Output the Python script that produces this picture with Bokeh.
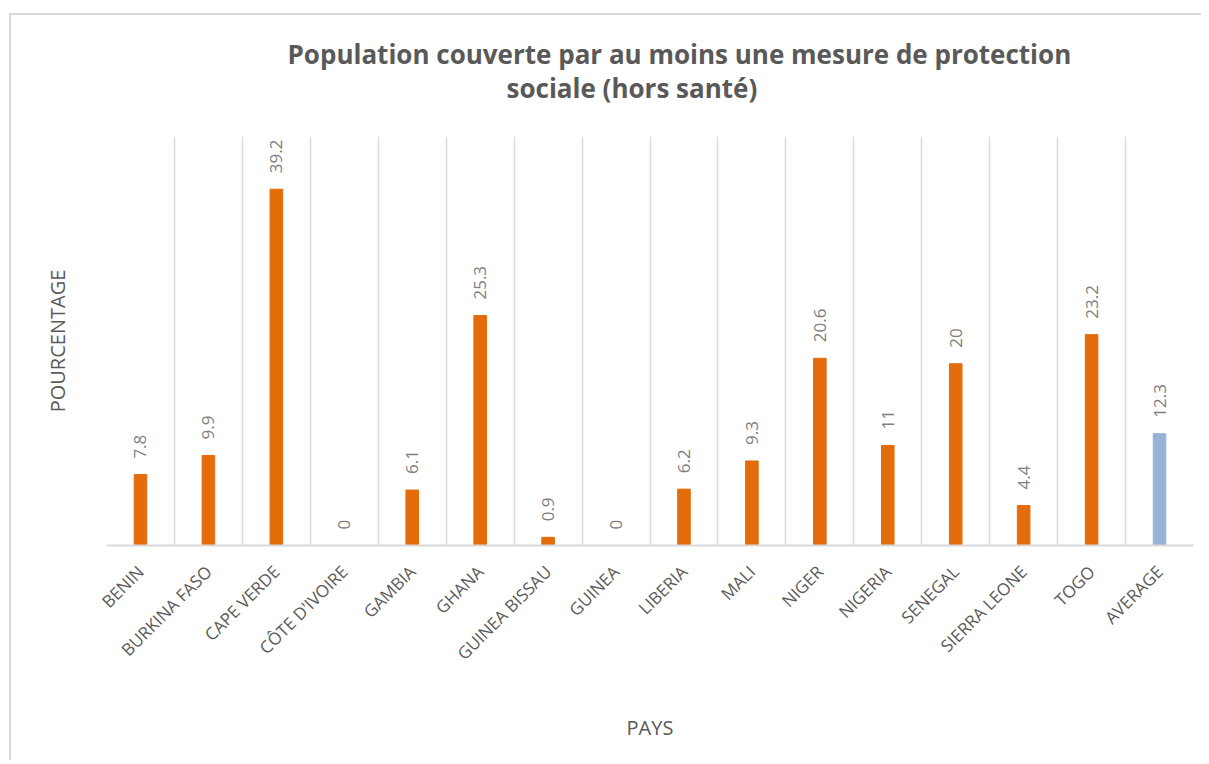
import math
from bokeh.plotting import figure
from bokeh.models import Range1d, FixedTicker, LabelSet, ColumnDataSource, Title
from bokeh.core.properties import value
from bokeh.embed import file_html
from bokeh.resources import INLINE

# ---- data ----
countries = ["BENIN", "BURKINA FASO", "CAPE VERDE", "CÔTE D'IVOIRE", "GAMBIA",
             "GHANA", "GUINEA BISSAU", "GUINEA", "LIBERIA", "MALI", "NIGER",
             "NIGERIA", "SENEGAL", "SIERRA LEONE", "TOGO", "AVERAGE"]
values = [7.8, 9.9, 39.2, 0, 6.1, 25.3, 0.9, 0, 6.2, 9.3, 20.6, 11, 20, 4.4, 23.2, 12.3]
title_line1 = "Population couverte par au moins une mesure de protection"
title_line2 = "sociale (hors santé)"
y_title = "POURCENTAGE"
x_title = "PAYS"

# ---- styles ----
ORANGE = "#E46C0A"
BLUE = "#95B3D7"
GRID = "#d9d9d9"
DARK = "#595959"
LABEL = "#808080"
FONT = "Open Sans"

n = len(countries)
xs = [i + 0.5 for i in range(n)]
colors = [BLUE if c == "AVERAGE" else ORANGE for c in countries]
labels = [f"{v:g}" for v in values]

src = ColumnDataSource(dict(x=xs, top=values, label=labels, color=colors))

p = figure(frame_width=1087, frame_height=409,
           min_border_left=95, min_border_right=8, min_border_top=121, min_border_bottom=215,
           x_range=Range1d(0, n), y_range=Range1d(0, 45),
           output_backend="svg", toolbar_location=None)
p.styles = {"border-top": "2px solid #d9d9d9", "border-left": "2px solid #d9d9d9",
            "margin-top": "13px", "margin-left": "9px"}
p.outline_line_color = None
p.background_fill_color = "white"
p.border_fill_color = "white"

p.vbar(x="x", top="top", width=0.185, color="color", source=src)

p.add_layout(LabelSet(x="x", y="top", text="label", source=src, angle=math.pi / 2,
                      text_align="left", text_baseline="middle", y_offset=16,
                      text_font=value(FONT), text_font_size="17px", text_color=LABEL))

# grid at category boundaries
p.ygrid.visible = False
p.xgrid.ticker = FixedTicker(ticks=list(range(n + 1)))
p.xgrid.grid_line_color = GRID
p.xgrid.grid_line_width = 1.5

# x axis
xa = p.xaxis[0]
xa.ticker = FixedTicker(ticks=xs)
xa.major_label_overrides = {x: c for x, c in zip(xs, countries)}
xa.major_label_orientation = math.pi / 4
xa.major_label_standoff = 23
xa.major_tick_out = 0
xa.major_tick_in = 0
xa.minor_tick_out = 0
xa.minor_tick_in = 0
xa.axis_line_color = GRID
xa.axis_line_width = 1.8
xa.major_label_text_font = FONT
xa.major_label_text_font_size = "17px"
xa.major_label_text_color = DARK
xa.axis_label = x_title
xa.axis_label_text_font = FONT
xa.axis_label_text_font_size = "20px"
xa.axis_label_text_font_style = "normal"
xa.axis_label_text_color = DARK
xa.axis_label_standoff = 38

# y axis (title only)
ya = p.yaxis[0]
ya.ticker = FixedTicker(ticks=[])
ya.axis_line_color = None
ya.major_tick_out = 0
ya.major_tick_in = 0
ya.minor_tick_out = 0
ya.minor_tick_in = 0
ya.major_label_standoff = 0
ya.axis_label = y_title
ya.axis_label_text_font = FONT
ya.axis_label_text_font_size = "20px"
ya.axis_label_text_font_style = "normal"
ya.axis_label_text_color = DARK
ya.axis_label_standoff = 36

# titles
p.title.text = title_line1
p.title.align = "left"
p.title.offset = 181
p.title.standoff = -68
p.title.text_font = FONT
p.title.text_font_size = "26px"
p.title.text_font_style = "bold"
p.title.text_color = DARK

t2 = Title(text=title_line2, align="left", offset=400, standoff=61,
           text_font=FONT, text_font_size="26px", text_font_style="bold", text_color=DARK)
p.add_layout(t2, "above")

open("out.html", "w").write(file_html(p, INLINE))
